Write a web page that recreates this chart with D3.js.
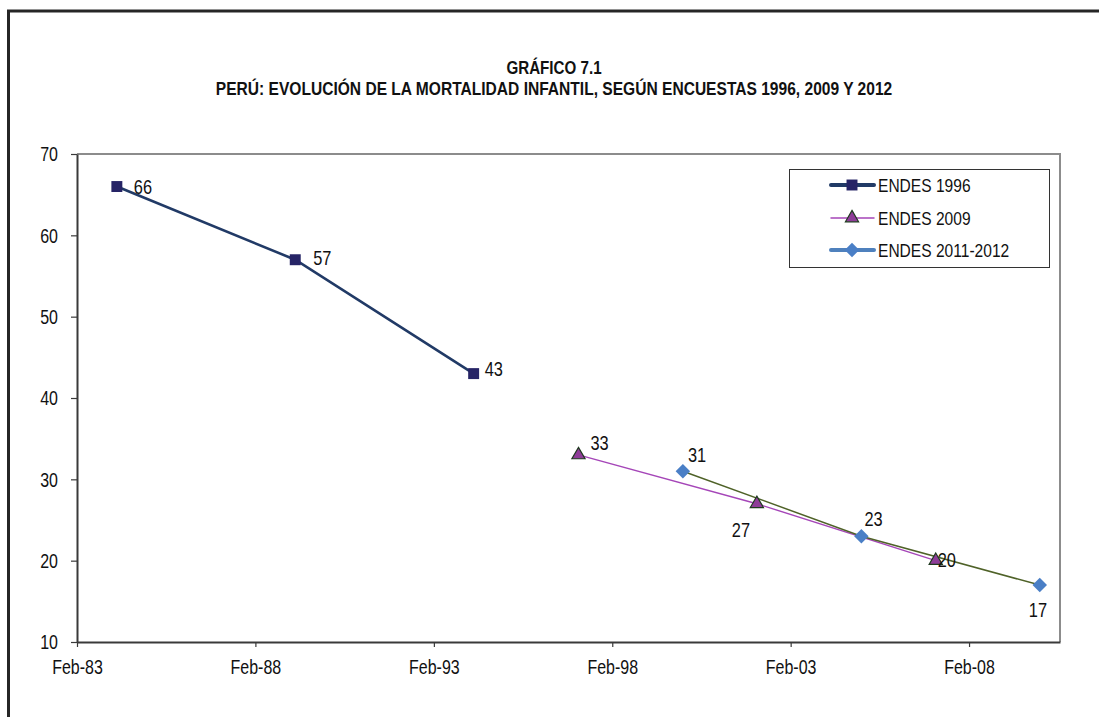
<!DOCTYPE html>
<html>
<head>
<meta charset="utf-8">
<script src="https://cdn.jsdelivr.net/npm/d3@7"></script>
<style>
  html, body { margin: 0; padding: 0; background: #fff; }
  svg { display: block; }
  text { font-family: "Liberation Sans", Arial, sans-serif; fill: #111; }
</style>
</head>
<body>
<svg id="chart" width="1099" height="717"></svg>
<script>
// Infant mortality estimates (per 1000 live births) by survey
const titleLines = ["GRÁFICO 7.1", "PERÚ: EVOLUCIÓN DE LA MORTALIDAD INFANTIL, SEGÚN ENCUESTAS 1996, 2009 Y 2012"];
const seriesNames = ["ENDES 1996", "ENDES 2009", "ENDES 2011-2012"];

const dates1996 = ["1984-03-15", "1989-03-15", "1994-03-15"];
const values1996 = [66, 57, 43];

const dates2009 = ["1997-02-20", "2002-02-20", "2007-02-25"];
const values2009 = [33, 27, 20];

const dates2012 = ["2000-01-25", "2005-01-25", "2010-01-25"];
const values2012 = [31, 23, 17];

const yTickValues = [10, 20, 30, 40, 50, 60, 70];
const xTickDates = ["1983-02-01", "1988-02-01", "1993-02-01", "1998-02-01", "2003-02-01", "2008-02-01"];
const xDomain = ["1983-02-01", "2010-08-20"];

const parse = d3.timeParse("%Y-%m-%d");
const fmt = d3.timeFormat("%b-%y");

// narrow typeface look: squeeze text horizontally around its anchor x
const NARROW = 0.82;
function condense(sel) {
  sel.each(function () {
    const t = d3.select(this);
    const ax = +t.attr("x") || 0;
    t.attr("transform", `translate(${ax * (1 - NARROW)},0) scale(${NARROW},1)`);
  });
  return sel;
}

const svg = d3.select("#chart");
const plot = { left: 77, right: 1060, top: 154, bottom: 642 };

const x = d3.scaleTime().domain(xDomain.map(parse)).range([plot.left, plot.right]);
const y = d3.scaleLinear().domain([10, 70]).range([plot.bottom, plot.top]);

// outer frame (top and left edges)
svg.append("path")
  .attr("d", "M8.5,717 L8.5,11 L1099,11")
  .attr("fill", "none").attr("stroke", "#262626").attr("stroke-width", 3);

// title
svg.append("text").attr("x", 554).attr("y", 74).attr("text-anchor", "middle")
  .attr("font-weight", "bold").attr("font-size", 18.5).text(titleLines[0]).call(condense);
svg.append("text").attr("x", 554).attr("y", 95).attr("text-anchor", "middle")
  .attr("font-weight", "bold").attr("font-size", 19).text(titleLines[1]).call(condense);

// plot area border (top / right)
svg.append("path")
  .attr("d", `M${plot.left},${plot.top} L${plot.right},${plot.top} L${plot.right},${plot.bottom}`)
  .attr("fill", "none").attr("stroke", "#8c8c8c").attr("stroke-width", 2);

// axes
const yAxis = svg.append("g").attr("transform", `translate(${plot.left},0)`)
  .call(d3.axisLeft(y).tickValues(yTickValues).tickSize(6).tickPadding(13).tickSizeOuter(0));
const xAxis = svg.append("g").attr("transform", `translate(0,${plot.bottom})`)
  .call(d3.axisBottom(x).tickValues(xTickDates.map(parse)).tickFormat(fmt).tickSize(5).tickPadding(13).tickSizeOuter(0));

[yAxis, xAxis].forEach(g => {
  g.select(".domain").attr("stroke", "#3a3a3a").attr("stroke-width", 2);
  g.selectAll(".tick line").attr("stroke", "#3a3a3a").attr("stroke-width", 1.2);
  g.selectAll(".tick text").attr("font-size", 19.5).attr("fill", "#111")
    .attr("font-family", "'Liberation Sans', Arial, sans-serif").call(condense);
});
yAxis.selectAll(".tick text").attr("dy", "0.35em");

const line = d3.line().x(d => x(d.date)).y(d => y(d.value));
const zip = (dates, values) => dates.map((d, i) => ({ date: parse(d), value: values[i] }));

const s1996 = zip(dates1996, values1996);
const s2009 = zip(dates2009, values2009);
const s2012 = zip(dates2012, values2012);

// lines
svg.append("path").datum(s1996).attr("d", line)
  .attr("fill", "none").attr("stroke", "#213a66").attr("stroke-width", 2.6);
svg.append("path").datum(s2009).attr("d", line)
  .attr("fill", "none").attr("stroke", "#a546b8").attr("stroke-width", 1.4);
svg.append("path").datum(s2012).attr("d", line)
  .attr("fill", "none").attr("stroke", "#4f6228").attr("stroke-width", 1.5);

// marker shapes
const squareSym = d3.symbol().type(d3.symbolSquare).size(120);
const triSym = d3.symbol().type(d3.symbolTriangle).size(75);
const diamondSym = d3.symbol().type(d3.symbolSquare).size(105);

function drawMarkers(data, kind) {
  const g = svg.append("g");
  data.forEach(d => {
    const cx = x(d.date), cy = y(d.value);
    if (kind === "square") {
      g.append("path").attr("d", squareSym()).attr("transform", `translate(${cx},${cy})`)
        .attr("fill", "#262466");
    } else if (kind === "triangle") {
      g.append("path").attr("d", triSym()).attr("transform", `translate(${cx},${cy})`)
        .attr("fill", "#8e3c98").attr("stroke", "#1f3a1f").attr("stroke-width", 1.2);
    } else {
      g.append("path").attr("d", diamondSym()).attr("transform", `translate(${cx},${cy}) rotate(45)`)
        .attr("fill", "#4a7fc6");
    }
  });
}
drawMarkers(s1996, "square");
drawMarkers(s2009, "triangle");
drawMarkers(s2012, "diamond");

// data labels: offsets from each point, per series
const labelOffsets1996 = [[17, 0], [18, -2], [11, -5]];
const labelOffsets2009 = [[12, -12], [-25, 26], [2, -1]];
const labelOffsets2012 = [[5, -16], [3, -17], [-11, 25]];

function drawLabels(data, offsets) {
  data.forEach((d, i) => {
    svg.append("text")
      .attr("x", x(d.date) + offsets[i][0])
      .attr("y", y(d.value) + offsets[i][1])
      .attr("dy", "0.35em")
      .attr("font-size", 20)
      .text(d.value)
      .call(condense);
  });
}
drawLabels(s1996, labelOffsets1996);
drawLabels(s2009, labelOffsets2009);
drawLabels(s2012, labelOffsets2012);

// legend
const legend = svg.append("g");
legend.append("rect").attr("x", 789.5).attr("y", 169.5).attr("width", 260).attr("height", 98)
  .attr("fill", "#fff").attr("stroke", "#333").attr("stroke-width", 1);
const legendRows = [
  { name: seriesNames[0], y: 185, stroke: "#213a66", width: 4, kind: "square" },
  { name: seriesNames[1], y: 218, stroke: "#a546b8", width: 1.5, kind: "triangle" },
  { name: seriesNames[2], y: 250, stroke: "#4f81bd", width: 4, kind: "diamond" }
];
legendRows.forEach(r => {
  legend.append("line").attr("x1", 831).attr("x2", 874).attr("y1", r.y).attr("y2", r.y)
    .attr("stroke", r.stroke).attr("stroke-width", r.width).attr("stroke-linecap", "round");
  const m = legend.append("path").attr("transform", r.kind === "diamond" ? `translate(852,${r.y}) rotate(45)` : `translate(852,${r.y})`);
  if (r.kind === "square") m.attr("d", squareSym()).attr("fill", "#262466");
  else if (r.kind === "triangle") m.attr("d", triSym()).attr("fill", "#8e3c98").attr("stroke", "#1f3a1f").attr("stroke-width", 1.2);
  else m.attr("d", diamondSym()).attr("fill", "#4a7fc6");
  legend.append("text").attr("x", 878).attr("y", r.y).attr("dy", "0.35em")
    .attr("font-size", 19).text(r.name).call(condense);
});
</script>
</body>
</html>
